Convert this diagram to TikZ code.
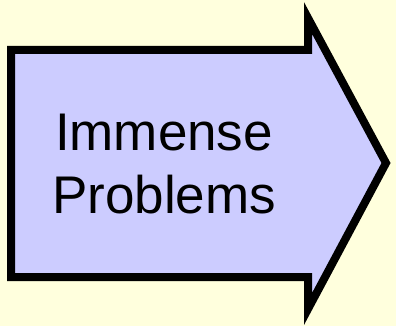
\documentclass[tikz,border=0pt]{standalone}
\usepackage{fontspec}
\setmainfont{Liberation Sans}
\usepackage{tikz}
\usetikzlibrary{positioning}
\definecolor{paper}{HTML}{FFFFDD}
\definecolor{lavender}{HTML}{CCCCFF}

\begin{document}
\begin{tikzpicture}[
        x=1pt, y=-1pt,
        blockarrow/.style={draw=black, fill=lavender, line width=8pt, line join=miter},
        label/.style={align=center, inner sep=0pt, font=\fontsize{53}{63}\selectfont}
    ]

        % background and size
        \fill[paper] (0,0) rectangle (396,326);
        \useasboundingbox (0,0) rectangle (396,326);

        \coordinate (tail top) at (11,50);
        \coordinate (tail bottom) at (11,277);
        \coordinate (tip) at (386,163);

        \draw[blockarrow] (tail top) -- (308,50) -- (308,18) -- (tip)
            -- (308,309) -- (308,277) -- (tail bottom) -- cycle;

        \node[label] (problems) at (164,164) {Immense\\Problems};
    \end{tikzpicture}
\end{document}
